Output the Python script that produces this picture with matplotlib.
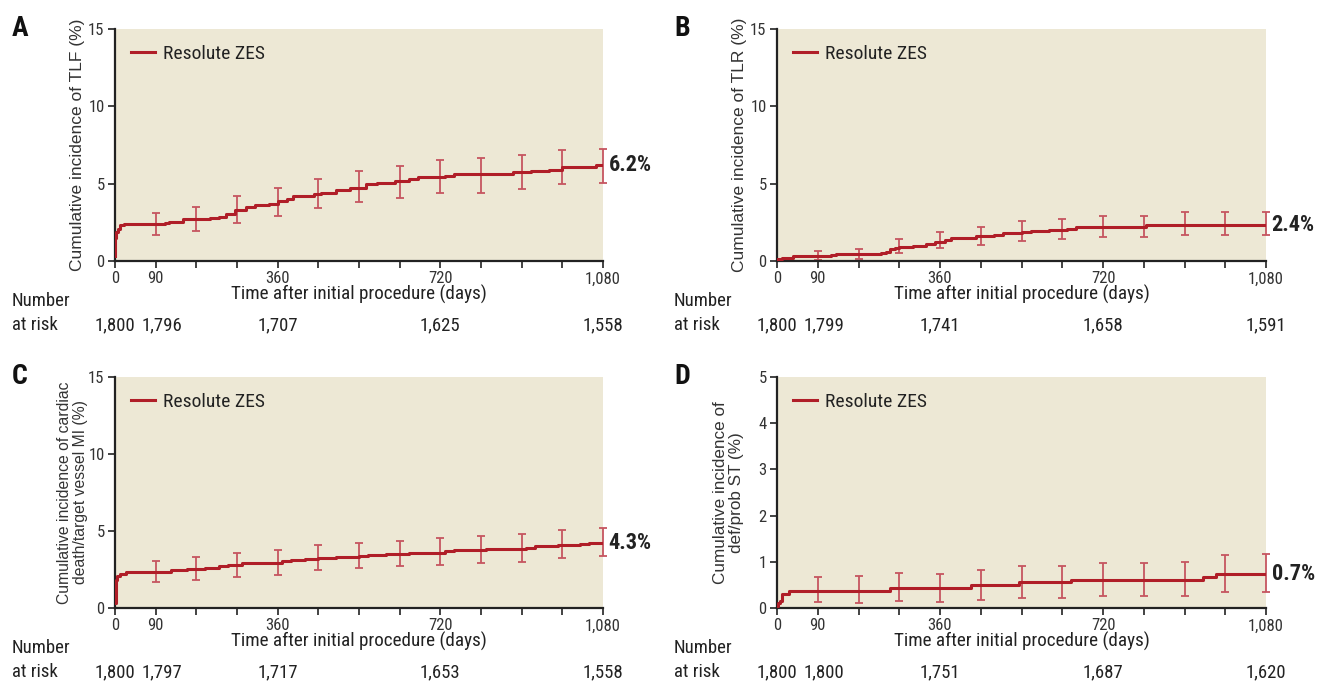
import matplotlib
matplotlib.use("Agg")
import matplotlib.pyplot as plt
from matplotlib import font_manager as fm
from matplotlib import transforms as mtrans

# ---------------- data ----------------
# Panel A: TLF
a_t = [0, 1, 3, 6, 10, 20, 110, 120, 150, 210, 230, 245, 265, 290, 310, 340, 360, 380, 395, 440, 455, 490, 520, 555, 580, 620, 650, 670, 730, 750, 820, 880, 920, 960, 990, 1035, 1065, 1080]
a_y = [0.3, 1.5, 1.9, 2.1, 2.3, 2.4, 2.45, 2.55, 2.7, 2.75, 2.85, 3.05, 3.3, 3.5, 3.6, 3.7, 3.85, 4.0, 4.2, 4.3, 4.4, 4.6, 4.75, 4.95, 5.05, 5.15, 5.3, 5.4, 5.5, 5.6, 5.65, 5.75, 5.8, 5.9, 6.05, 6.1, 6.2, 6.2]
a_lo = [1.67, 1.95, 2.45, 2.92, 3.42, 3.80, 4.07, 4.37, 4.40, 4.63, 4.96, 5.02]
a_hi = [3.12, 3.46, 4.18, 4.70, 5.32, 5.80, 6.17, 6.50, 6.65, 6.88, 7.16, 7.27]

# Panel B: TLR
b_t = [0, 10, 35, 120, 130, 230, 240, 250, 260, 270, 300, 330, 350, 370, 385, 440, 480, 500, 540, 560, 600, 640, 660, 815, 1080]
b_y = [0.1, 0.2, 0.33, 0.4, 0.45, 0.5, 0.6, 0.75, 0.85, 0.93, 1.0, 1.1, 1.25, 1.35, 1.5, 1.6, 1.7, 1.8, 1.9, 1.95, 2.0, 2.05, 2.2, 2.33, 2.33]
b_lo = [0.06, 0.15, 0.50, 0.82, 1.01, 1.29, 1.40, 1.57, 1.57, 1.68, 1.68, 1.68]
b_hi = [0.65, 0.75, 1.40, 1.85, 2.22, 2.60, 2.69, 2.93, 2.93, 3.15, 3.15, 3.15]

# Panel C: cardiac death / target vessel MI
c_t = [0, 2, 5, 10, 25, 125, 160, 200, 230, 250, 280, 340, 370, 390, 420, 450, 490, 540, 560, 600, 650, 700, 730, 750, 820, 870, 910, 930, 980, 1030, 1050, 1080]
c_y = [0.3, 1.8, 2.05, 2.2, 2.33, 2.45, 2.55, 2.6, 2.7, 2.8, 2.9, 2.95, 3.05, 3.1, 3.15, 3.25, 3.3, 3.4, 3.45, 3.5, 3.55, 3.6, 3.7, 3.75, 3.8, 3.85, 3.9, 4.0, 4.1, 4.15, 4.25, 4.25]
c_lo = [1.68, 1.81, 2.00, 2.14, 2.44, 2.59, 2.70, 2.78, 2.89, 3.00, 3.24, 3.37]
c_hi = [3.06, 3.30, 3.54, 3.76, 4.06, 4.25, 4.38, 4.55, 4.66, 4.79, 5.07, 5.20]

# Panel D: definite/probable ST
d_t = [0, 3, 7, 10, 12, 27, 250, 428, 535, 650, 940, 970, 1080]
d_y = [0.05, 0.1, 0.15, 0.2, 0.3, 0.36, 0.43, 0.5, 0.56, 0.61, 0.67, 0.73, 0.73]
d_lo = [0.12, 0.11, 0.15, 0.14, 0.18, 0.22, 0.22, 0.27, 0.27, 0.27, 0.35, 0.35]
d_hi = [0.68, 0.69, 0.75, 0.74, 0.82, 0.90, 0.91, 0.98, 0.98, 0.99, 1.14, 1.16]

err_days = [90, 180, 270, 360, 450, 540, 630, 720, 810, 900, 990, 1080]

risk_days = [0, 90, 360, 720, 1080]
a_risk = ["1,800", "1,796", "1,707", "1,625", "1,558"]
b_risk = ["1,800", "1,799", "1,741", "1,658", "1,591"]
c_risk = ["1,800", "1,797", "1,717", "1,653", "1,558"]
d_risk = ["1,800", "1,800", "1,751", "1,687", "1,620"]

final_labels = ["6.2%", "2.4%", "4.3%", "0.7%"]
panel_letters = ["A", "B", "C", "D"]
ylabels = ["Cumulative incidence of TLF (%)",
           "Cumulative incidence of TLR (%)",
           "Cumulative incidence of cardiac\ndeath/target vessel MI (%)",
           "Cumulative incidence of\ndef/prob ST (%)"]
ymax = [15, 15, 15, 5]
yticks = [[0, 5, 10, 15], [0, 5, 10, 15], [0, 5, 10, 15], [0, 1, 2, 3, 4, 5]]
xtick_labels = {0: "0", 90: "90", 360: "360", 720: "720", 1080: "1,080"}


# ---------------- fonts ----------------
def _isbold(w):
    if isinstance(w, str):
        return w.lower() in ("bold", "heavy", "black", "demibold", "semibold", "extra bold")
    return w >= 600


def find_narrow(bold):
    cands = []
    for f in fm.fontManager.ttflist:
        fn = f.fname.lower()
        nm = f.name.lower()
        if f.style != "normal" or _isbold(f.weight) != bold:
            continue
        if not any(k in fn or k in nm for k in ("narrow", "condensed")):
            continue
        rank_extra = 1 if ("extra" in fn or "semi" in fn or "ultra" in fn) else 0
        if "liberation" in fn:
            r = 0
        elif "roboto" in fn:
            r = 1
        elif "dejavu" in fn and "mono" not in fn and "serif" not in fn:
            r = 2
        elif "open" in fn:
            r = 3
        else:
            r = 5
        cands.append((rank_extra, r, f.fname))
    cands.sort()
    return cands[0][2] if cands else None


N_REG = find_narrow(False)
N_BOLD = find_narrow(True)


def nfont(size, bold=False):
    path = N_BOLD if bold else N_REG
    if path:
        return fm.FontProperties(fname=path, size=size)
    return fm.FontProperties(family="DejaVu Sans", stretch="condensed", size=size,
                             weight="bold" if bold else "normal")


REG = "Liberation Sans"

# ---------------- style ----------------
LINE = "#B01E28"
ERR = "#C65560"
BG = "#EDE8D5"
TXT = "#222222"

fig = plt.figure(figsize=(13.19, 6.90), dpi=100)
W, H = 1319, 690
boxes = [(115, 29, 603, 261), (777, 29, 1266, 261), (115, 377, 603, 608), (777, 377, 1266, 608)]
ylab_size = [12.5, 12.5, 11.3, 12.3]
ylab_pad = [2, 2, 0, 10]

panels = [(a_t, a_y, a_lo, a_hi, a_risk), (b_t, b_y, b_lo, b_hi, b_risk),
          (c_t, c_y, c_lo, c_hi, c_risk), (d_t, d_y, d_lo, d_hi, d_risk)]

for i, ((t, y, lo, hi, risk), (x0, y0, x1, y1)) in enumerate(zip(panels, boxes)):
    ax = fig.add_axes([x0 / W, 1 - y1 / H, (x1 - x0) / W, (y1 - y0) / H])
    ax.set_facecolor(BG)
    ax.set_xlim(0, 1080)
    ax.set_ylim(0, ymax[i])
    ax.step(t, y, where="post", color=LINE, lw=2.2, label="Resolute ZES", zorder=3)
    # error bars centred on the curve
    mid = []
    for d in err_days:
        v = y[0]
        for tt, yy in zip(t, y):
            if tt <= d:
                v = yy
        mid.append(v)
    yerr = [[m - l for m, l in zip(mid, lo)], [h - m for m, h in zip(mid, hi)]]
    ax.errorbar(err_days, mid, yerr=yerr, fmt="none", ecolor=ERR, elinewidth=1.3,
                capsize=3.2, capthick=1.3, zorder=2, clip_on=False)
    for s in ["top", "right"]:
        ax.spines[s].set_visible(False)
    for s in ["left", "bottom"]:
        ax.spines[s].set_color("#222222")
        ax.spines[s].set_linewidth(1.6)
    ax.set_xticks([0] + err_days)
    ax.set_xticklabels([xtick_labels.get(v, "") for v in [0] + err_days])
    ax.set_yticks(yticks[i])
    ax.tick_params(direction="out", length=5, width=1.2, color="#222222",
                   labelcolor="#333333", pad=2.5)
    for lab in ax.get_xticklabels() + ax.get_yticklabels():
        lab.set_fontproperties(nfont(12))
    ax.set_xlabel("Time after initial procedure (days)", fontproperties=nfont(13.8),
                  color=TXT, labelpad=-1)
    ax.set_ylabel(ylabels[i], fontsize=ylab_size[i], family=REG, color="#333333",
                  labelpad=ylab_pad[i], linespacing=1.08)
    leg = ax.legend(loc="upper left", frameon=False, prop=nfont(14),
                    handlelength=1.25, handletextpad=0.4, borderaxespad=0.4)
    for tx in leg.get_texts():
        tx.set_color(TXT)
    # final value label
    ax.annotate(final_labels[i], xy=(1080, y[-1]), xytext=(4, 0), textcoords="offset points",
                ha="left", va="center", fontproperties=nfont(16, bold=True),
                color=TXT, annotation_clip=False)
    # panel letter
    fig.text((20 + (662 if i % 2 else 0)) / W, 1 - (y0 - 1) / H, panel_letters[i],
             fontproperties=nfont(20, bold=True), color="#111111",
             ha="center", va="center")
    # number at risk
    base_x = 12 + (662 if i % 2 else 0)
    fig.text(base_x / W, 1 - (y1 + 40) / H, "Number", fontproperties=nfont(13.5),
             color=TXT, ha="left", va="center")
    fig.text(base_x / W, 1 - (y1 + 64) / H, "at risk", fontproperties=nfont(13.5),
             color=TXT, ha="left", va="center")
    blend = mtrans.blended_transform_factory(ax.transData, fig.transFigure)
    offs_px = [0, 6, 0, 0, 0]
    for d, r, o in zip(risk_days, risk, offs_px):
        tr = blend + mtrans.ScaledTranslation(o / 100, 0, fig.dpi_scale_trans)
        fig.text(d, 1 - (y1 + 64) / H, r, transform=tr, ha="center", va="center",
                 fontproperties=nfont(13.5), color=TXT)

fig.savefig("out.png", dpi=100)
